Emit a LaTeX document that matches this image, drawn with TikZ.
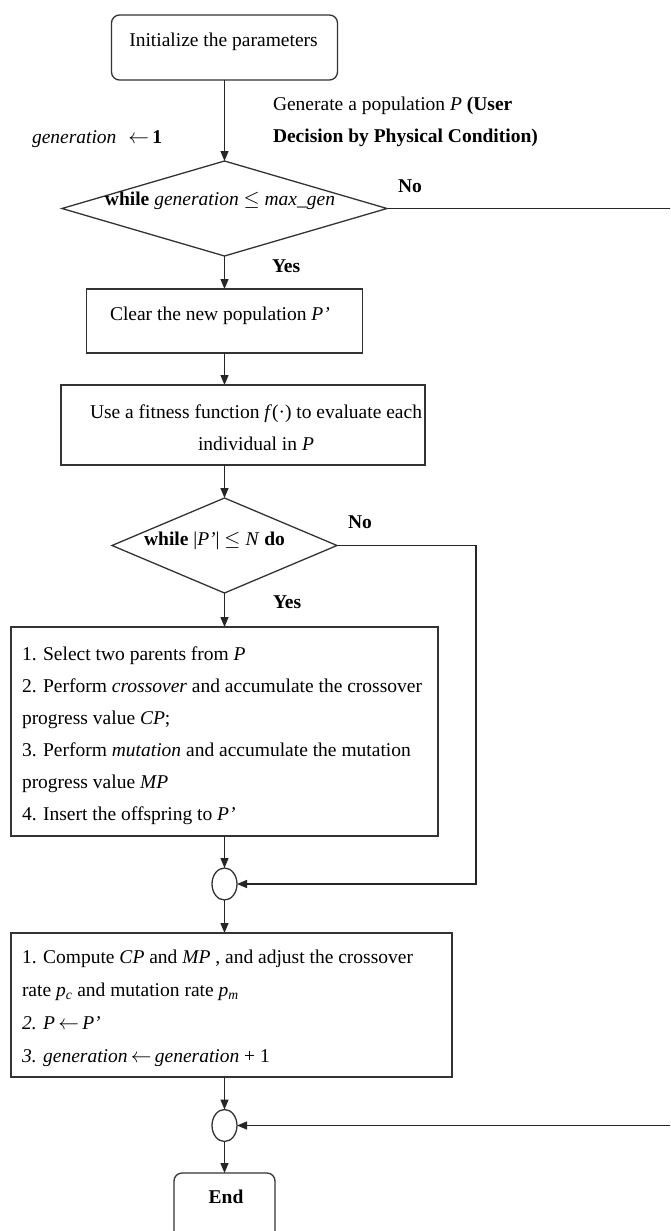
\documentclass[tikz,border=0pt]{standalone}
\usepackage{fontspec}
\setmainfont{Liberation Serif}
\usetikzlibrary{arrows.meta,shapes.geometric}
\begin{document}
\begin{tikzpicture}[x=1pt,y=-1pt,
  every node/.style={inner sep=0pt, outer sep=0pt},
  shp/.style={draw=black!80, line width=1.3pt},
  rbox/.style={shp, rectangle, rounded corners=8pt},
  sbox/.style={shp, rectangle},
  dia/.style={shp, diamond},
  junc/.style={shp, ellipse, minimum width=25pt, minimum height=32pt},
  conn/.style={draw=black!85, line width=1.3pt, -{Triangle[length=10pt,width=8pt]}},
  txt/.style={font=\fontsize{19.5}{32}\selectfont},
]
\useasboundingbox (0,0) rectangle (670,1231);
\fill[white] (0,0) rectangle (670,1231);
\clip (0,0) rectangle (670,1231);

% shapes
\node[rbox, minimum width=226pt, minimum height=65pt] (init) at (224.5,47.5) {};
\node[dia, minimum width=325pt, minimum height=95pt] (d1) at (224.5,208.5) {};
\node[sbox, minimum width=276pt, minimum height=64pt] (box2) at (224.5,321) {};
\node[sbox, minimum width=364pt, minimum height=80pt] (box3) at (243,425) {};
\node[dia, minimum width=225pt, minimum height=95pt] (d2) at (224.5,545.5) {};
\node[sbox, minimum width=427pt, minimum height=209pt] (box4) at (224.5,731.5) {};
\node[junc] (c1) at (224.5,884) {};
\node[sbox, minimum width=441pt, minimum height=144pt] (box5) at (231.5,1005) {};
\node[junc] (c2) at (224.5,1125.5) {};
\node[rbox, minimum width=101pt, minimum height=80pt] (endbox) at (224.5,1213) {};

% texts
\node[txt, anchor=base] (tinit) at (223.5,47) {Initialize the parameters};
\node[txt, anchor=west, align=left] (tgen) at (273,121.6) {Generate a population \textit{P} \textbf{(User}\\\textbf{Decision by Physical Condition)}};
\node[txt, anchor=base west] (tg1) at (32,143) {\textit{generation}\hspace{12pt}$\leftarrow$\,\textbf{1}};
\node[txt, anchor=base] (td1) at (220,205) {\textbf{while} \textit{generation} $\leq$ \textit{max\_gen}};
\node[txt, anchor=base west] (no1) at (398,192) {\textbf{No}};
\node[txt, anchor=base west] (yes1) at (272,272) {\textbf{Yes}};
\node[txt, anchor=base west] (tbox2) at (110,320) {Clear the new population \textit{P’}};
\node[txt, anchor=center, align=center] (tbox3) at (256,428) {Use a fitness function \textit{f}(·) to evaluate each\\individual in \textit{P}};
\node[txt, anchor=base] (td2) at (214.5,545) {\textbf{while} |\textit{P’}| $\leq$ \textit{N} \textbf{do}};
\node[txt, anchor=base west] (no2) at (348,528) {\textbf{No}};
\node[txt, anchor=base west] (yes2) at (273,608) {\textbf{Yes}};
\node[txt, anchor=west, align=left] (tbox4) at (22,736) {1. Select two parents from \textit{P}\\
2. Perform \textit{crossover} and accumulate the crossover\\
progress value \textit{CP};\\
3. Perform \textit{mutation} and accumulate the mutation\\
progress value \textit{MP}\\
4. Insert the offspring to \textit{P’}};
\node[txt, font=\fontsize{19.5}{33}\selectfont, anchor=west, align=left] (tbox5) at (22,1008) {1. Compute \textit{CP} and \textit{MP} , and adjust the crossover\\
rate \textit{p}\textsubscript{\textit{c}} and mutation rate \textit{p}\textsubscript{\textit{m}}\\
\textit{2. P}\,$\leftarrow$\,\textit{P’}\\
\textit{3. generation}\,$\leftarrow$\,\textit{generation} + 1};
\node[txt, anchor=base] (tend) at (226,1203) {\textbf{End}};

% connectors
\coordinate (r1) at (671.5,208.5);
\coordinate (r2) at (476,545.5);
\draw[conn] (init) -- (d1);
\draw[conn] (d1) -- (box2);
\draw[conn] (box2.south) -- (box2.south |- box3.north);
\draw[conn] (d2.north |- box3.south) -- (d2.north);
\draw[conn] (d2) -- (box4);
\draw[conn] (box4) -- (c1);
\draw[conn] (c1) -- (c1 |- box5.north);
\draw[conn] (c2 |- box5.south) -- (c2);
\draw[conn] (c2) -- (endbox);
\draw[conn] (d1.east) -- (r1) |- (c2.east);
\draw[conn] (d2.east) -- (r2) |- (c1.east);
\end{tikzpicture}
\end{document}
